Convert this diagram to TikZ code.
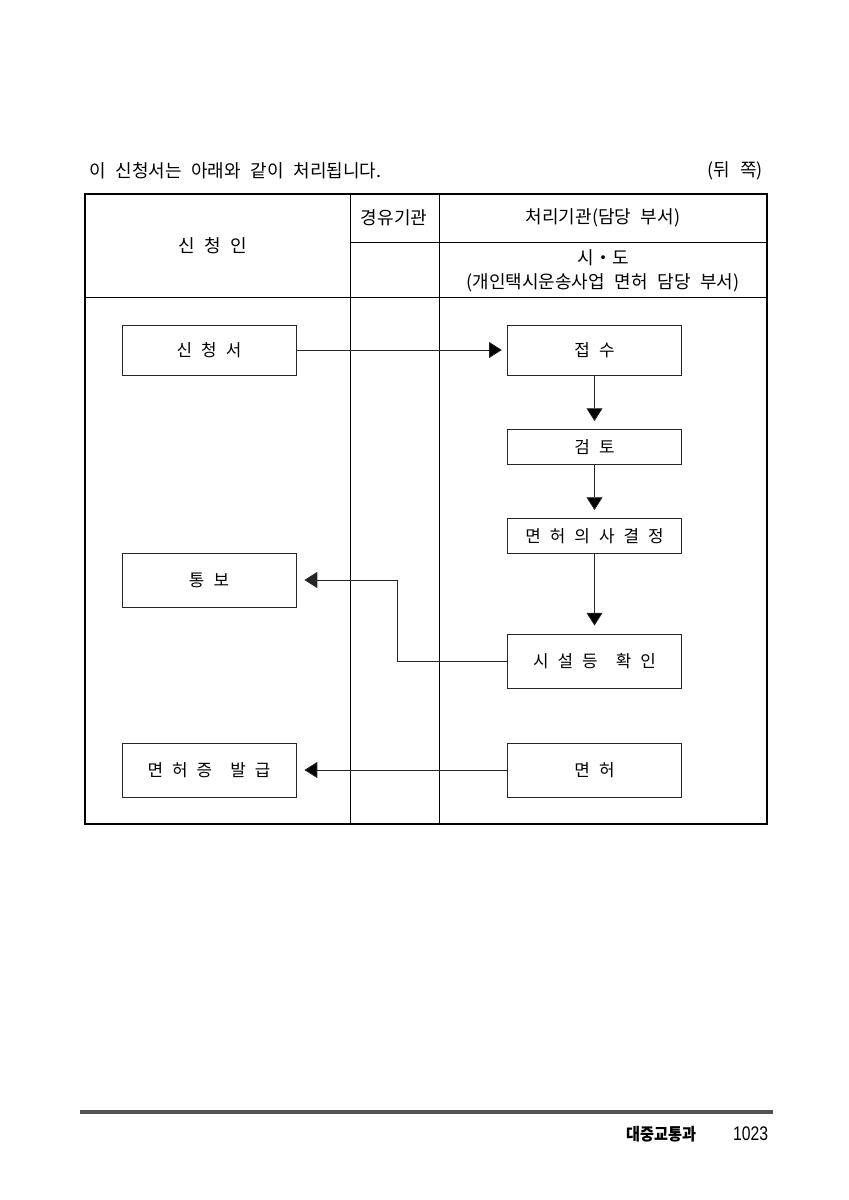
\documentclass[tikz,border=0pt]{standalone}
\usepackage{fontspec}
\setmainfont[WordSpace=2.4]{Noto Sans CJK KR}
\newfontfamily\footfont[FakeStretch=0.9]{Noto Sans CJK KR}
\newfontfamily\numfont[FakeStretch=0.8]{Liberation Sans}
\usepackage{tikz}
\usetikzlibrary{shapes,arrows,arrows.meta}
\usetikzlibrary{calc}

\begin{document}
\begin{tikzpicture}[x=0.025cm, y=-0.025cm,
	head_node/.style={inner sep=0pt, font=\fontsize{12.8}{15}\selectfont},
	box_node/.style={draw=black!85, line width=0.6pt, minimum width=4.35cm, inner sep=0pt, font=\fontsize{12}{14}\selectfont},
	flow/.style={draw=black!85, line width=0.6pt, -{Triangle[length=0.32cm,width=0.4cm]}, shorten >=0.2cm}]
				\useasboundingbox (0,0) rectangle (848,1200);
				
				\node[head_node, anchor=west] (title) at (89,171) {이 신청서는 아래와 같이 처리됩니다.};
				\node[head_node, anchor=east] (side) at (763,171) {(뒤 쪽)};
				
				\draw[line width=1.5pt] (85,194) rectangle (767,824);
				\draw[line width=0.6pt] (350,194) -- (350,824) (439,194) -- (439,824)
					(350,242) -- (767,242) (85,297) -- (767,297);
				
				\node[head_node] (via) at (394,218) {경유기관};
				\node[head_node] (proc) at (603,218) {처리기관(담당 부서)};
				\node[head_node] (appl) at (213,246) {신 청 인};
				\node[head_node] (city) at (603,258) {시・도};
				\node[head_node] (dept) at (603,283) {(개인택시운송사업 면허 담당 부서)};
				
				\node[box_node, minimum height=1.25cm] (1) at (209,350) {신 청 서};
				\node[box_node, minimum height=1.25cm] (2) at (594.5,350) {접 수};
				\node[box_node, minimum height=0.875cm] (3) at (594.5,447) {검 토};
				\node[box_node, minimum height=0.875cm] (4) at (594.5,536) {면 허 의 사 결 정};
				\node[box_node, minimum height=1.35cm] (5) at (209,580) {통 보};
				\node[box_node, minimum height=1.35cm] (6) at (594.5,661) {시 설 등~~확 인};
				\node[box_node, minimum height=1.35cm] (7) at (209,770) {면 허 증~~발 급};
				\node[box_node, minimum height=1.35cm] (8) at (594.5,770) {면 허};
				
				\path[flow]
				(1) edge[shorten >=0.13cm] (2)
				(2) edge (3)
				(3) edge (4)
				(4) edge (6)
				(8) edge (7);
				\draw[flow] (6.west) -- ++(-110,0) |- (5.east);
				
				\draw[line width=3.5pt, draw=black!68] (80,1112) -- (773,1112);
				\node[anchor=east, font=\footfont\bfseries\fontsize{12}{14}\selectfont] (office) at (701,1134) {대중교통과};
				\node[anchor=east, font=\numfont\fontsize{14}{16}\selectfont] (page) at (773,1134) {1023};
			\end{tikzpicture}
\end{document}
